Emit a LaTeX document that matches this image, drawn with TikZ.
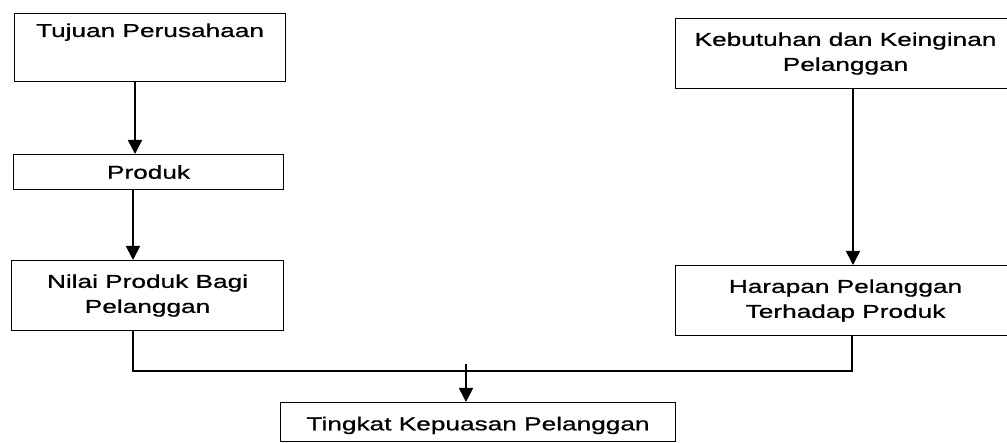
\documentclass[tikz,border=0pt]{standalone}
\usepackage{fontspec}
\setmainfont[FakeStretch=1.41, FakeBold=0.8]{Liberation Sans}
\usetikzlibrary{arrows.meta}
\tikzset{
  box/.style={draw=black, line width=1.1pt, rectangle, anchor=north west, inner sep=0pt,
    align=center, font=\fontsize{18.6}{25}\selectfont},
  conn/.style={draw=black, line width=1.7pt},
  arr/.style={conn, -{Triangle[width=14pt,length=14pt]}},
}
\begin{document}
\begin{tikzpicture}[x=1pt,y=-1pt]
\useasboundingbox (0,0) rectangle (1007,443);
\clip (0,0) rectangle (1007,443);
\fill[white] (0,0) rectangle (1007,443);
% boxes
\node[box, minimum width=271pt, minimum height=68pt,
  label={[anchor=base, yshift=-24pt, font=\fontsize{18.6}{25}\selectfont]north:Tujuan Perusahaan}]
  (tujuan) at (14,13) {};
\node[box, minimum width=270pt, minimum height=35pt] (produk) at (13,154) {Produk};
\node[box, minimum width=272pt, minimum height=70pt] (nilai) at (11,260) {Nilai Produk Bagi\\Pelanggan};
\node[box, minimum width=340pt, minimum height=70pt] (kebut) at (675,18) {Kebutuhan dan Keinginan\\Pelanggan};
\node[box, minimum width=340pt, minimum height=70pt] (harapan) at (675,265) {Harapan Pelanggan\\Terhadap Produk};
\node[box, minimum width=395pt, minimum height=39pt, text depth=0pt, yshift=0pt] (tingkat) at (280,402) {\raisebox{-3pt}{Tingkat Kepuasan Pelanggan}};
% guide coordinates
\coordinate (xa) at (135,0);
\coordinate (xb) at (133,0);
\coordinate (xc) at (853,0);
\coordinate (la) at (133,371);
\coordinate (lb) at (852,371);
\coordinate (j) at (466,364);
% connectors
\draw[arr] (tujuan.south -| xa) -- (produk.north -| xa);
\draw[arr] (produk.south -| xb) -- (nilai.north -| xb);
\draw[arr] (kebut.south -| xc) -- (harapan.north -| xc);
\draw[conn] (nilai.south -| la) -- (la) -- (lb) -- (harapan.south -| lb);
\draw[arr] (j) -- (tingkat.north -| j);
\end{tikzpicture}
\end{document}
